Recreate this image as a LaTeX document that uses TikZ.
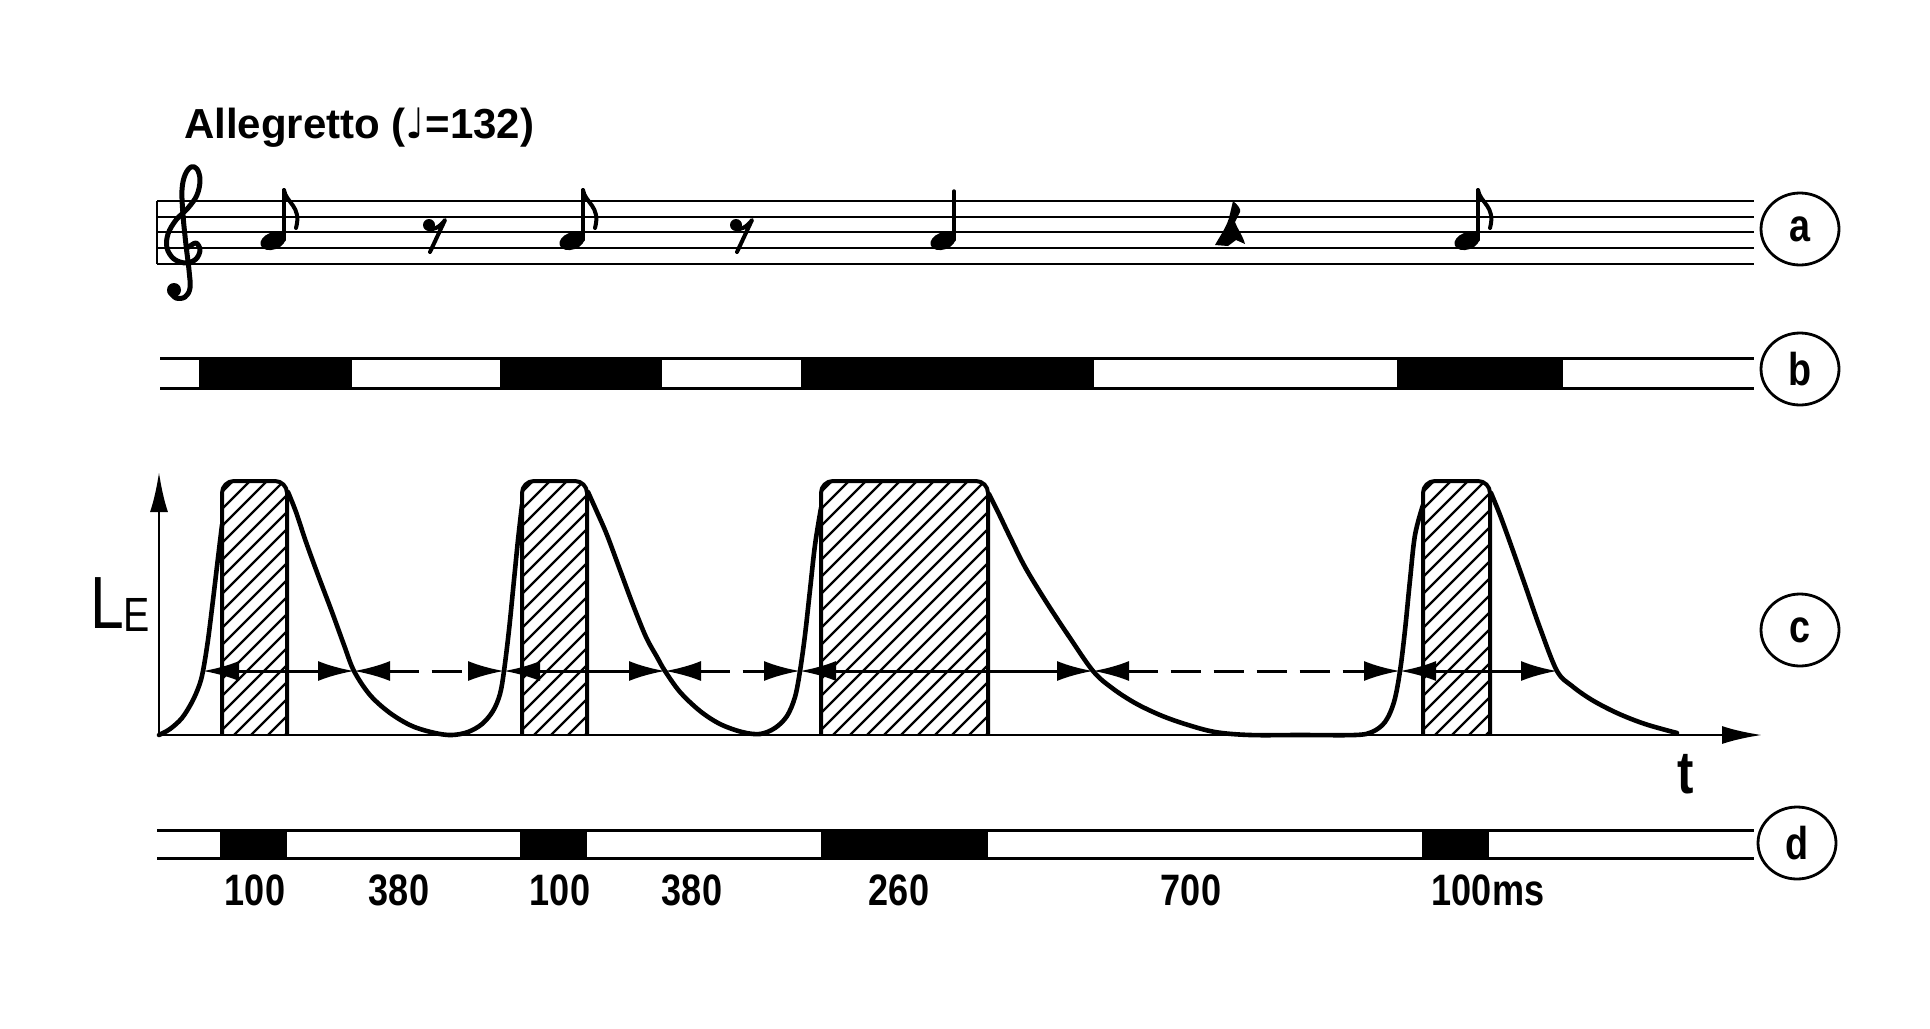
\documentclass[tikz,border=0pt]{standalone}
\usepackage{fontspec}
\newfontfamily\tempofont{Liberation Sans}
\newfontfamily\dinf[FakeStretch=0.82]{Liberation Sans}
\newfontfamily\dvs{DejaVu Sans}
\usetikzlibrary{arrows.meta,shapes.geometric}
\newcommand\pulsebox[2]{%
  \begin{scope}
    \clip (#1,735) -- (#1,600) [rounded corners=12pt] -- (#1,481) -- (#2,481) -- (#2,600) [sharp corners] -- (#2,735) -- cycle;
    \foreach \k in {0,...,27} \draw[hatchl] ({#1-260+17*\k},735) -- ++(300,-300);
  \end{scope}
  \draw[boxline] (#1,735) -- (#1,600) [rounded corners=12pt] -- (#1,481) -- (#2,481) -- (#2,600) [sharp corners] -- (#2,735);
}
\begin{document}
\begin{tikzpicture}[x=1pt,y=-1pt,
  staffline/.style={line width=2.8pt},
  track/.style={line width=3pt},
  curve/.style={line width=4.6pt,line join=round,line cap=round},
  boxline/.style={line width=4pt,line join=round},
  hatchl/.style={line width=2.3pt},
  axis/.style={line width=2.8pt,->,>={Latex[length=40pt,width=18pt]}},
  dur/.style={line width=3pt,<->,>={Latex[length=36pt,width=20pt]}},
  durdash/.style={dur,dash pattern=on 30pt off 13pt},
  circlab/.style={draw,ellipse,line width=2.8pt,minimum width=78pt,minimum height=72pt,inner sep=0pt,font=\dinf\bfseries\fontsize{46}{46}\selectfont},
  numlab/.style={font=\dinf\bfseries\fontsize{44}{44}\selectfont,inner sep=0pt,anchor=base},
  notestroke/.style={line width=3.4pt,line cap=round},
]
\useasboundingbox (0,0) rectangle (1930,1028);
\fill[white] (0,0) rectangle (1930,1028);

% ---------- tempo ----------
\node[font=\tempofont\bfseries\fontsize{42}{42}\selectfont,anchor=base west,inner sep=0pt] (tempo) at (184,138) {Allegretto ({\dvs ♩}=132)};

% ---------- staff (a) ----------
\foreach \yy in {201,217,232,248,264} \draw[staffline] (157,\yy) -- (1754,\yy);
\draw[staffline] (157,201) -- (157,264);
% treble clef
\draw[line width=5pt,line cap=round,line join=round] plot[smooth,tension=0.6] coordinates {
 (189,247) (196,243) (200,250) (196,259) (186,263) (174,259) (167,248) (168,234) (176,220) (188,208) (197,195) (200,180) (197,169) (191,167) (185,175) (182,190) (183,215) (186,245) (189,270) (190,288) (185,297) (176,298) (170,292)};
\fill (174,290) circle (7pt);
% eighth notes
\foreach \hx in {273,572,1467}{
  \fill[rotate around={20:(\hx,241)}] (\hx,241) ellipse (13pt and 8.5pt);
  \draw[notestroke] (\hx+11,240) -- (\hx+11,190);
  \draw[line width=4pt,line cap=round] (\hx+11,190) .. controls (\hx+13,203) and (\hx+29,206) .. (\hx+23,228);
}
% quarter note
\fill[rotate around={20:(943,241)}] (943,241) ellipse (13pt and 8.5pt);
\draw[notestroke] (954,240) -- (954,191);
% eighth rests
\foreach \rx in {423,730}{
  \fill (\rx+6,225) circle (6pt);
  \draw[line width=4pt,line join=round,line cap=round] (\rx+3,227) .. controls (\rx+9,232) and (\rx+17,227) .. (\rx+22,220) -- (\rx+7,252);
}
% quarter rest
\fill (1233,201) .. controls (1238,205) and (1241,209) .. (1240,212) -- (1235,222) .. controls (1238,230) and (1243,236) .. (1245,244) -- (1236,240) -- (1228,246) -- (1215,245) .. controls (1220,236) and (1226,228) .. (1229,218) -- cycle;

\node[circlab] (ca) at (1800,229) {a};

% ---------- track (b) ----------
\draw[track] (160,358) -- (1754,358) (160,388) -- (1754,388);
\foreach \a/\b in {199/352,500/662,801/1094,1397/1563} \fill (\a,358) rectangle (\b,388);
\node[circlab] (cb) at (1800,369) {b};

% ---------- graph (c) ----------
\pulsebox{222}{287}
\pulsebox{522}{587}
\pulsebox{821}{988}
\pulsebox{1423}{1490}

\coordinate (O) at (159,735);
\coordinate (ytip) at (159,472);
\coordinate (xtip) at (1762,735);
\draw[axis] (O) -- (ytip);
\draw[axis] (157,735) -- (xtip);

\draw[curve] plot[smooth,tension=0.55] coordinates {(159,735) (170,729) (182,718) (192,702) (199,686) (203,671) (208,640) (213,600) (218,558) (222,525)};
\draw[curve] plot[smooth,tension=0.55] coordinates {(288,492) (296,512) (306,542) (318,575) (332,612) (344,645) (354,671) (370,695) (390,713) (412,726) (435,733) (452,735) (468,732) (482,724) (493,711) (500,694) (504,671) (509,630) (514,580) (518,540) (522,505)};
\draw[curve] plot[smooth,tension=0.55] coordinates {(588,492) (597,512) (607,535) (620,570) (633,605) (646,637) (657,657) (665,671) (680,692) (700,711) (720,724) (742,732) (760,734) (775,728) (787,716) (795,697) (800,671) (805,635) (810,590) (815,545) (821,508)};
\draw[curve] plot[smooth,tension=0.55] coordinates {(989,494) (998,512) (1010,537) (1025,567) (1045,600) (1068,635) (1093,671) (1112,688) (1135,703) (1160,715) (1185,724) (1215,732) (1250,735) (1300,735) (1355,735) (1372,732) (1385,722) (1394,702) (1400,671) (1405,630) (1410,580) (1415,535) (1423,505)};
\draw[curve] plot[smooth,tension=0.55] coordinates {(1491,493) (1500,515) (1512,548) (1525,585) (1540,628) (1557,671) (1572,686) (1592,700) (1617,713) (1645,724) (1677,733)};

\coordinate (r1) at (203,671);
\coordinate (f1) at (354,671);
\coordinate (r2) at (504,671);
\coordinate (f2) at (665,671);
\coordinate (r3) at (800,671);
\coordinate (f3) at (1093,671);
\coordinate (r4) at (1400,671);
\coordinate (f4) at (1557,671);
\draw[dur] (r1) -- (f1);
\draw[durdash] (f1) -- (r2);
\draw[dur] (r2) -- (f2);
\draw[durdash] (f2) -- (r3);
\draw[dur] (r3) -- (f3);
\draw[durdash] (f3) -- (r4);
\draw[dur] (r4) -- (f4);

\node[font=\dinf\fontsize{74}{74}\selectfont,anchor=base west,inner sep=0pt] (le) at (90,628) {L\raisebox{-3pt}{\fontsize{48}{48}\selectfont E}};
\node[font=\dinf\bfseries\fontsize{60}{60}\selectfont,anchor=base,inner sep=0pt] (tl) at (1686,793) {t};
\node[circlab] (cc) at (1800,630) {c};

% ---------- track (d) ----------
\draw[track] (157,830) -- (1754,830) (157,858) -- (1754,858);
\foreach \a/\b in {220/287,520/587,821/988,1422/1489} \fill (\a,830) rectangle (\b,858);
\node[circlab] (cd) at (1797,843) {d};

\node[numlab] (n1) at (255,905) {100};
\node[numlab] (n2) at (399,905) {380};
\node[numlab] (n3) at (560,905) {100};
\node[numlab] (n4) at (692,905) {380};
\node[numlab] (n5) at (899,905) {260};
\node[numlab] (n6) at (1191,905) {700};
\node[numlab] (n7) at (1488,905) {100ms};
\end{tikzpicture}
\end{document}
